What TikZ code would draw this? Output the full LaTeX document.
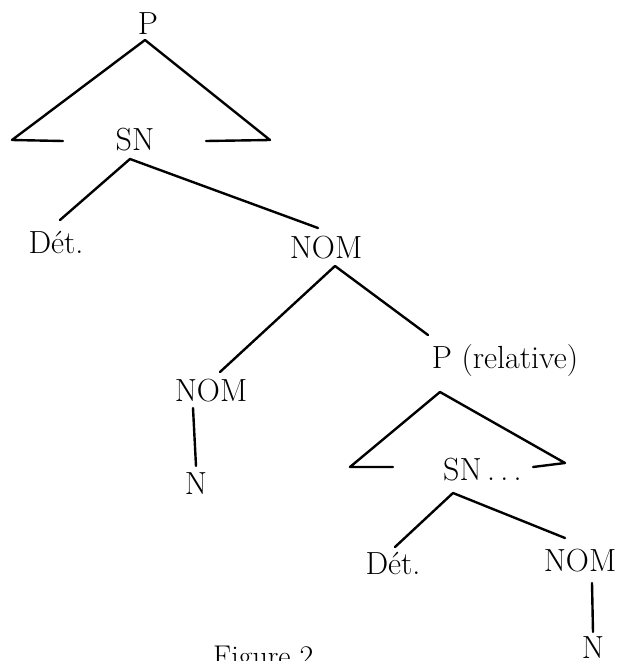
\documentclass[tikz,border=0pt]{standalone}
\begin{document}
\begin{tikzpicture}[x=1pt,y=-1pt,
  lbl/.style={inner sep=0pt,text height=21pt,text depth=0pt,font=\fontsize{32}{34}\selectfont},
  edge/.style={line width=2.4pt,line cap=round,line join=round}]
\useasboundingbox (0,0) rectangle (617,661);
\clip (0,0) rectangle (617,661);
% nodes
\node[lbl] (P) at (148,24) {P};
\node[lbl] (SN) at (135,140) {SN};
\node[lbl] (Det1) at (56,243) {Dét.};
\node[lbl] (NOM1) at (326,248) {NOM};
\node[lbl] (NOM2) at (211,391) {NOM};
\node[lbl] (N1) at (196,484) {N};
\node[lbl] (Prel) at (505,358) {P (relative)};
\node[lbl,anchor=west] (SN2) at (443,470) {SN\,.\,.\,.};
\node[lbl] (Det2) at (393,564) {Dét.};
\node[lbl] (NOM3) at (580,561) {NOM};
\node[lbl] (N2) at (593,648) {N};
\node[lbl,anchor=north west,font=\fontsize{30}{32}\selectfont] (cap) at (213,645) {Figure 2.};
% attachment points
\coordinate (Pa) at (145,40);
\coordinate (PL1) at (12,140);
\coordinate (PL2) at (63,141);
\coordinate (PR1) at (270,140);
\coordinate (PR2) at (206,141);
\coordinate (SNa) at (130,159);
\coordinate (Det1a) at (60,220);
\coordinate (NOM1t) at (318,228);
\coordinate (NOM1a) at (335,266);
\coordinate (NOM2t) at (220,372);
\coordinate (Prelt) at (428,335);
\coordinate (NOM2a) at (193,408);
\coordinate (N1t) at (196,466);
\coordinate (Prela) at (440,392);
\coordinate (QL1) at (350,467);
\coordinate (QL2) at (393,467);
\coordinate (QR1) at (565,463);
\coordinate (QR2) at (533,467);
\coordinate (SN2a) at (453,493);
\coordinate (Det2t) at (395,547);
\coordinate (NOM3t) at (565,538);
\coordinate (NOM3a) at (592,583);
\coordinate (N2t) at (593,632);
% connectors
\draw[edge] (PL2) -- (PL1) -- (Pa) -- (PR1) -- (PR2);
\draw[edge] (Det1a) -- (SNa) -- (NOM1t);
\draw[edge] (NOM2t) -- (NOM1a) -- (Prelt);
\draw[edge] (NOM2a) -- (N1t);
\draw[edge] (QL2) -- (QL1) -- (Prela) -- (QR1) -- (QR2);
\draw[edge] (Det2t) -- (SN2a) -- (NOM3t);
\draw[edge] (NOM3a) -- (N2t);
\end{tikzpicture}
\end{document}
